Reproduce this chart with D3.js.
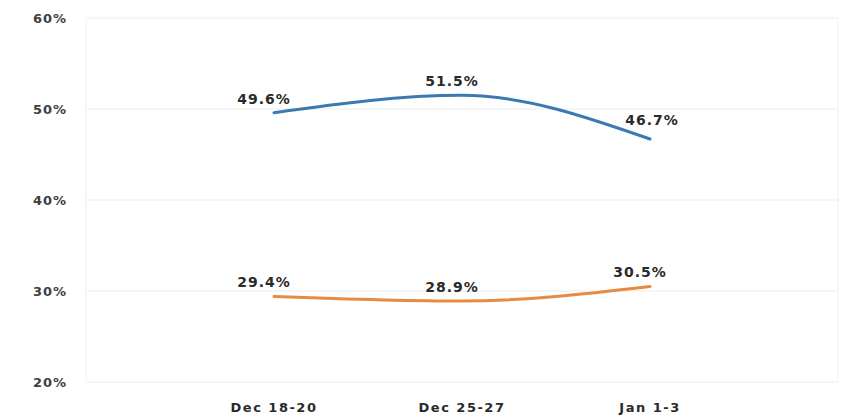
<!DOCTYPE html>
<html>
<head>
<meta charset="utf-8">
<script src="https://d3js.org/d3.v7.min.js"></script>
<style>
  body { margin: 0; background: #fff; }
  text { font-family: "DejaVu Sans", sans-serif; }
</style>
</head>
<body>
<div id="chart"></div>
<script>
// data
const categories = ["Dec 18-20", "Dec 25-27", "Jan 1-3"];
const seriesBlue = [49.6, 51.5, 46.7];
const seriesOrange = [29.4, 28.9, 30.5];
const yTicks = [20, 30, 40, 50, 60];

const width = 843, height = 419;
const margin = { top: 18, right: 5, bottom: 37, left: 86 };

const svg = d3.select("#chart")
    .append("svg")
    .attr("width", width)
    .attr("height", height);

const x = d3.scalePoint()
    .domain(categories)
    .range([margin.left, width - margin.right])
    .padding(1);

const y = d3.scaleLinear()
    .domain([20, 60])
    .range([height - margin.bottom, margin.top]);

// grid lines
svg.append("g")
    .selectAll("line")
    .data(yTicks)
    .join("line")
    .attr("x1", margin.left)
    .attr("x2", width - margin.right)
    .attr("y1", d => y(d))
    .attr("y2", d => y(d))
    .attr("stroke", "#ececec")
    .attr("stroke-width", 1);

// side borders
svg.append("g")
    .selectAll("line")
    .data([margin.left, width - margin.right])
    .join("line")
    .attr("x1", d => d)
    .attr("x2", d => d)
    .attr("y1", y(60))
    .attr("y2", y(20))
    .attr("stroke", "#f0f0f0");

// y axis labels
svg.append("g")
    .selectAll("text")
    .data(yTicks)
    .join("text")
    .attr("x", 67)
    .attr("y", d => y(d) + 5)
    .attr("text-anchor", "end")
    .attr("fill", "#404040")
    .style("font-size", "13px")
    .style("font-weight", "bold")
    .style("letter-spacing", "1px")
    .text(d => d + "%");

// x axis labels
svg.append("g")
    .selectAll("text")
    .data(categories)
    .join("text")
    .attr("x", d => x(d))
    .attr("y", 412)
    .attr("text-anchor", "middle")
    .attr("fill", "#2a2a2a")
    .style("font-size", "13px")
    .style("font-weight", "bold")
    .style("letter-spacing", "1.5px")
    .text(d => d);

const line = d3.line()
    .x(d => x(d.cat))
    .y(d => y(d.value))
    .curve(d3.curveMonotoneX);

const series = [
    { values: seriesBlue, color: "#3b79b3" },
    { values: seriesOrange, color: "#e88a40" }
];

series.forEach(s => {
    const pts = categories.map((c, i) => ({
        cat: c,
        value: s.values[i],
        // a point reached by a falling line gets its label nudged right and up
        falling: i > 0 && s.values[i] < s.values[i - 1]
    }));
    svg.append("path")
        .datum(pts)
        .attr("d", line)
        .attr("fill", "none")
        .attr("stroke", s.color)
        .attr("stroke-width", 3)
        .attr("stroke-linecap", "round");

    svg.append("g")
        .selectAll("text")
        .data(pts)
        .join("text")
        .attr("x", d => x(d.cat) + (d.falling && d.value < 40 ? -10 : d.falling ? 2 : -10))
        .attr("y", d => y(d.value) - (d.falling && d.value > 40 ? 14 : 9))
        .attr("text-anchor", "middle")
        .attr("fill", "#2a2a2a")
        .style("font-size", "14px")
        .style("font-weight", "bold")
        .style("letter-spacing", "1px")
        .text(d => d.value.toFixed(1) + "%");
});
</script>
</body>
</html>
